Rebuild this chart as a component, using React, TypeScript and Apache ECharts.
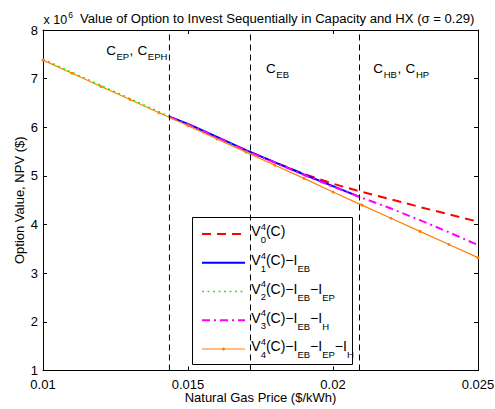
import React, { useEffect, useRef } from 'react';
import * as echarts from 'echarts';

const FONT = '"Liberation Sans", Arial, Helvetica, sans-serif';

// Axis ticks
const xMin = 0.01;
const xMax = 0.025;
const xStep = 0.005;
const yMin = 1;
const yMax = 8;
const yStep = 1;

// Natural gas price grid ($/kWh) and option values (x 10^6 $)
const v4Price = [0.010, 0.011, 0.012, 0.013, 0.014, 0.015, 0.016, 0.017, 0.018, 0.019, 0.020, 0.021, 0.022, 0.023, 0.024, 0.025];
const v4Values = [7.38, 7.11, 6.84, 6.57, 6.30, 6.03, 5.76, 5.49, 5.22, 4.95, 4.67, 4.40, 4.13, 3.86, 3.59, 3.32];

const v2Price = [0.010, 0.011, 0.012, 0.013, 0.014, 0.01436];
const v2Values = [7.40, 7.13, 6.86, 6.59, 6.32, 6.22];

const v1Price = [0.01436, 0.015, 0.016, 0.017, 0.018, 0.019, 0.020, 0.020914];
const v1Values = [6.22, 6.07, 5.80, 5.53, 5.28, 5.03, 4.79, 4.57];

const v3Price = [0.01436, 0.015, 0.016, 0.017, 0.018, 0.019, 0.020, 0.021, 0.022, 0.023, 0.024, 0.025];
const v3Values = [6.21, 6.06, 5.79, 5.52, 5.27, 5.02, 4.78, 4.55, 4.33, 4.09, 3.84, 3.58];

const v0Price = [0.017155, 0.018, 0.019, 0.020, 0.021, 0.022, 0.023, 0.024, 0.025];
const v0Values = [5.49, 5.28, 5.04, 4.84, 4.67, 4.52, 4.36, 4.21, 4.06];

// Threshold prices (vertical dashed lines): C_EP, C_EB, C_HB
const thresholds = [0.01436, 0.017155, 0.020914];

const seriesNames = ['V0', 'V1', 'V2', 'V3', 'V4'];
const seriesColors = ['#ff0000', '#0000ff', '#00ff00', '#ff00ff', '#ff8000'];

const titleText = 'Value of Option to Invest Sequentially in Capacity and HX (\u03c3 = 0.29)';
const xName = 'Natural Gas Price ($/kWh)';
const yName = 'Option Value, NPV ($)';

type Piece = { t: string; fs: number; dy: number; stack?: boolean };

let mctx: CanvasRenderingContext2D | null = null;
function textW(t: string, fs: number) {
  if (!mctx) mctx = document.createElement('canvas').getContext('2d');
  mctx!.font = `${fs}px "Liberation Sans"`;
  return mctx!.measureText(t).width;
}

function pieces(x0: number, base: number, ps: Piece[], gap = 0) {
  const out: any[] = [];
  let x = x0;
  let lastX = x0;
  let lastW = 0;
  for (const p of ps) {
    const w = textW(p.t, p.fs);
    let px: number;
    if (p.stack) {
      px = lastX;
      x = lastX + Math.max(lastW, w) + gap;
    } else {
      px = x;
      lastX = px;
      lastW = w;
      x = px + w + gap;
    }
    out.push({
      type: 'text',
      x: px,
      y: base + p.dy - 0.3465 * p.fs,
      silent: true,
      z: 10,
      style: {
        text: p.t,
        fontSize: p.fs,
        fontFamily: FONT,
        fill: '#000',
        align: 'left',
        verticalAlign: 'middle',
        textAlign: 'left',
        textVerticalAlign: 'middle',
      },
    });
  }
  return out;
}

const pair = (xs: number[], ys: number[]) => xs.map((x, i) => [x, ys[i]]);

function buildOption() {
  const M = 13.5;
  const S = 9.5;
  const graphic: any[] = [];

  // title with exponent
  graphic.push(...pieces(43.5, 24, [{ t: 'x 10', fs: 12.5, dy: 0 }]));
  graphic.push(...pieces(68.3, 18.3, [{ t: '6', fs: 8.5, dy: 0 }]));
  const tw = textW(titleText, 13);
  const tfs = Math.max(12, Math.min(14, (13 * 395) / tw));
  graphic.push(...pieces(80, 23, [{ t: titleText, fs: tfs, dy: 0 }]));

  // region labels
  graphic.push(...pieces(106.2, 55, [
    { t: 'C', fs: M, dy: 0 }, { t: 'EP', fs: S, dy: 5 }, { t: ', ', fs: M, dy: 0 },
    { t: 'C', fs: M, dy: 0 }, { t: 'EPH', fs: S, dy: 5 },
  ], 0.5));
  graphic.push(...pieces(266, 72.7, [
    { t: 'C', fs: M, dy: 0 }, { t: 'EB', fs: S, dy: 5.5 },
  ], 0.6));
  graphic.push(...pieces(373.3, 72.7, [
    { t: 'C', fs: M, dy: 0 }, { t: 'HB', fs: S, dy: 5.5 }, { t: ', ', fs: M, dy: 0 },
    { t: 'C', fs: M, dy: 0 }, { t: 'HP', fs: S, dy: 5.5 },
  ], 0.6));

  // legend
  const LM = 14;
  const LS = 9.5;
  graphic.push({
    type: 'rect', silent: true, z: 9,
    shape: { x: 192.5, y: 217.5, width: 160, height: 147 },
    style: { fill: 'none', stroke: '#000', lineWidth: 1 },
  });
  const tails: Piece[][] = [
    [{ t: '(C)', fs: LM, dy: 0 }],
    [{ t: '(C)\u2212I', fs: LM, dy: 0 }, { t: 'EB', fs: LS, dy: 7 }],
    [{ t: '(C)\u2212I', fs: LM, dy: 0 }, { t: 'EB', fs: LS, dy: 7 }, { t: '\u2212I', fs: LM, dy: 0 }, { t: 'EP', fs: LS, dy: 7 }],
    [{ t: '(C)\u2212I', fs: LM, dy: 0 }, { t: 'EB', fs: LS, dy: 7 }, { t: '\u2212I', fs: LM, dy: 0 }, { t: 'H', fs: LS, dy: 7 }],
    [{ t: '(C)\u2212I', fs: LM, dy: 0 }, { t: 'EB', fs: LS, dy: 7 }, { t: '\u2212I', fs: LM, dy: 0 }, { t: 'EP', fs: LS, dy: 7 }, { t: '\u2212I', fs: LM, dy: 0 }, { t: 'H', fs: LS, dy: 7 }],
  ];
  const dashes: any[] = [[9, 6], null, [2, 3.5], [8, 4, 2, 4], null];
  const widths = [2, 2, 1.5, 2, 1.2];
  seriesNames.forEach((_, i) => {
    const ly = 234 + 28.75 * i;
    graphic.push({
      type: 'line', silent: true, z: 10,
      shape: { x1: 202, y1: ly, x2: 245, y2: ly },
      style: { stroke: seriesColors[i], lineWidth: widths[i], lineDash: dashes[i] || undefined },
    });
    if (i === 4) {
      graphic.push({
        type: 'circle', silent: true, z: 11,
        shape: { cx: 223.5, cy: ly, r: 1.5 },
        style: { fill: seriesColors[i] },
      });
    }
    graphic.push(...pieces(251.3, ly + 2.2, [
      { t: 'V', fs: LM, dy: 0 },
      { t: '4', fs: LS, dy: -6.5 },
      { t: String(i), fs: LS, dy: 6.5, stack: true },
      ...tails[i],
    ]));
  });

  const axisCommon = {
    type: 'value',
    splitLine: { show: false },
    axisLine: { show: true, onZero: false, lineStyle: { color: '#000', width: 1 } },
    axisTick: { show: true, inside: true, length: 4, lineStyle: { color: '#000', width: 1 } },
  };
  const labelStyle = { color: '#000', fontSize: 13, fontFamily: FONT };

  const thresholdSeries = thresholds.map((t, i) => ({
    name: 'threshold' + i,
    type: 'line',
    data: [[t, yMin], [t, yMax]],
    symbol: 'none',
    silent: true,
    z: 3,
    lineStyle: { color: '#000', width: 1, type: [6, 4] },
  }));

  return {
    animation: false,
    backgroundColor: '#fff',
    grid: { left: 43, right: 17, top: 30, bottom: 38.5, containLabel: false, outerBoundsMode: 'none' },
    xAxis: [
      {
        ...axisCommon, position: 'bottom', min: xMin, max: xMax, interval: xStep,
        axisLabel: { ...labelStyle, margin: 7, formatter: (v: number) => String(parseFloat(v.toFixed(3))) },
        name: xName, nameLocation: 'middle', nameGap: 20, nameMoveOverlap: false,
        nameTextStyle: { ...labelStyle },
      },
      {
        ...axisCommon, position: 'top', min: xMin, max: xMax, interval: xStep,
        axisLabel: { show: false },
      },
    ],
    yAxis: [
      {
        ...axisCommon, position: 'left', min: yMin, max: yMax, interval: yStep,
        axisLabel: { ...labelStyle, margin: 5 },
        name: yName, nameLocation: 'middle', nameGap: 17, nameMoveOverlap: false,
        nameTextStyle: { ...labelStyle },
      },
      {
        ...axisCommon, position: 'right', min: yMin, max: yMax, interval: yStep,
        axisLabel: { show: false },
      },
    ],
    series: [
      {
        name: seriesNames[0], type: 'line', data: pair(v0Price, v0Values), symbol: 'none', z: 2,
        lineStyle: { color: seriesColors[0], width: 2, type: [9, 6] },
      },
      {
        name: seriesNames[1], type: 'line', data: pair(v1Price, v1Values), symbol: 'none', z: 2,
        lineStyle: { color: seriesColors[1], width: 2 },
      },
      {
        name: seriesNames[2], type: 'line', data: pair(v2Price, v2Values), symbol: 'none', z: 2,
        lineStyle: { color: seriesColors[2], width: 1.5, type: [2, 3.5] },
      },
      {
        name: seriesNames[3], type: 'line', data: pair(v3Price, v3Values), symbol: 'none', z: 2,
        lineStyle: { color: seriesColors[3], width: 2, type: [8, 4, 2, 4] },
      },
      {
        name: seriesNames[4], type: 'line', data: pair(v4Price, v4Values), z: 2,
        symbol: 'circle', symbolSize: 3, showSymbol: true,
        itemStyle: { color: seriesColors[4] },
        lineStyle: { color: seriesColors[4], width: 1.2 },
      },
      ...thresholdSeries,
    ],
    graphic,
  };
}

export default function App() {
  const ref = useRef<HTMLDivElement>(null);
  useEffect(() => {
    const chart = echarts.init(ref.current!, null, { renderer: 'svg' });
    chart.setOption(buildOption() as any);
    return () => chart.dispose();
  }, []);
  return (
    <div
      ref={ref}
      style={{ position: 'fixed', left: 0, top: 0, width: 495, height: 409, background: '#fff' }}
    />
  );
}
